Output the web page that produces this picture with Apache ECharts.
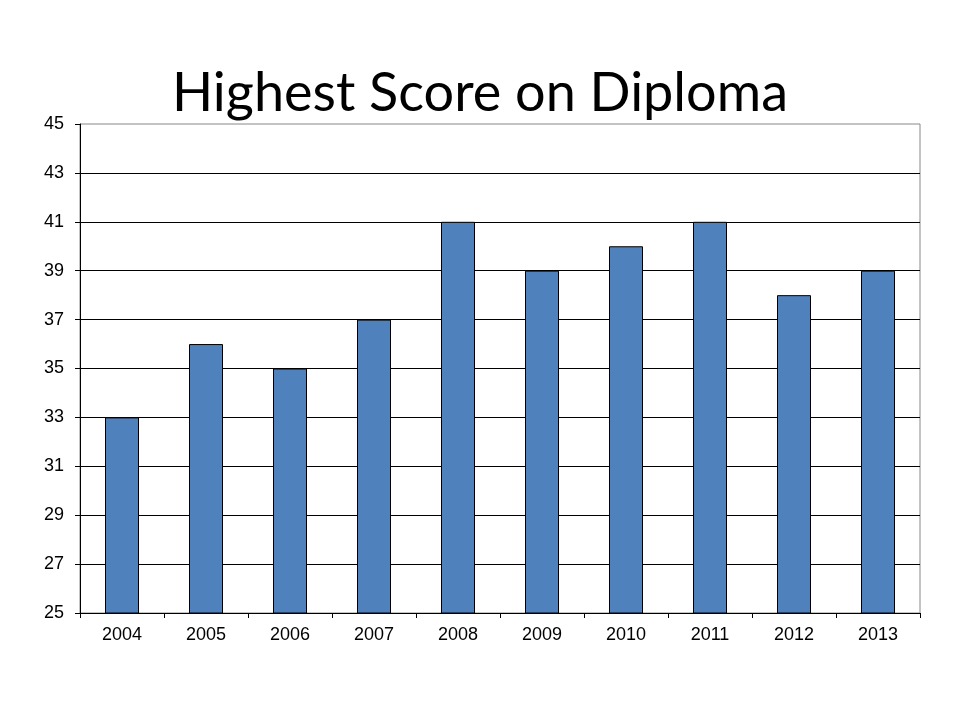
<!DOCTYPE html>
<html>
<head>
<meta charset="utf-8">
<script src="https://cdn.jsdelivr.net/npm/echarts@6/dist/echarts.min.js"></script>
<style>html,body{margin:0;padding:0;background:#fff;}#c{width:960px;height:720px;}</style>
</head>
<body>
<div id="c"></div>
<script>
var titleText = 'Highest Score on Diploma';
var years = ['2004','2005','2006','2007','2008','2009','2010','2011','2012','2013'];
var scores = [33, 36, 35, 37, 41, 39, 40, 41, 38, 39];
var yMin = 25, yMax = 45, yStep = 2;

var chart = echarts.init(document.getElementById('c'));
chart.setOption({
  backgroundColor: '#ffffff',
  animation: false,
  title: {
    text: titleText,
    left: 'center',
    top: 62,
    textStyle: {fontFamily: 'Lato', fontWeight: 'normal', fontSize: 54, color: '#000'}
  },
  grid: {left: 80, right: 40, top: 124, bottom: 107, show: true, borderColor: '#888', borderWidth: 1},
  xAxis: {
    type: 'category',
    data: years,
    axisLine: {lineStyle: {color: '#000', width: 1}},
    axisTick: {show: true, length: 5, lineStyle: {color: '#000'}},
    axisLabel: {fontFamily: 'Liberation Sans', fontSize: 18, color: '#000', margin: 13}
  },
  yAxis: {
    type: 'value',
    min: yMin, max: yMax, interval: yStep,
    axisLine: {show: true, lineStyle: {color: '#000', width: 1}},
    axisTick: {show: true, length: 5, lineStyle: {color: '#000'}},
    axisLabel: {fontFamily: 'Liberation Sans', fontSize: 18, color: '#000', margin: 16},
    splitLine: {show: true, showMaxLine: false, lineStyle: {color: '#000', width: 1}}
  },
  series: [{
    type: 'bar',
    data: scores,
    barWidth: 34,
    itemStyle: {color: '#4F81BD', borderColor: '#000', borderWidth: 1}
  }]
});
</script>
</body>
</html>
